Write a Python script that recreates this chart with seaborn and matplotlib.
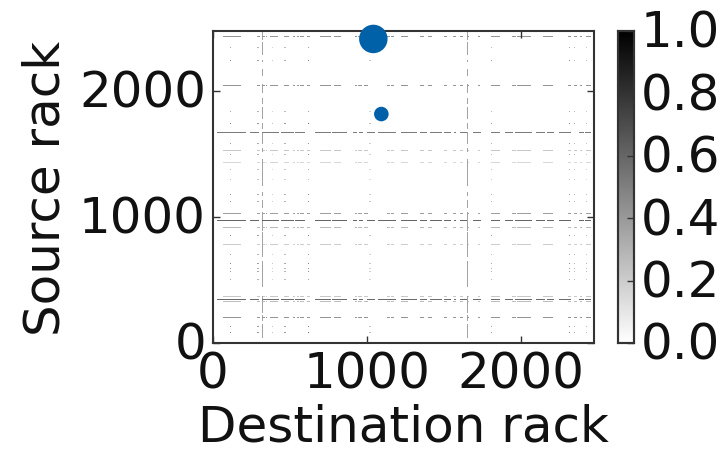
import numpy as np
import matplotlib
matplotlib.use('Agg')
import matplotlib.pyplot as plt
from matplotlib.transforms import ScaledTranslation
import seaborn as sns

# racks per heatmap cell, axis ends at about rack 2476
BIN = 8
LIMIT = 2476

x_ticks = [0, 1000, 2000]
y_ticks = [0, 1000, 2000]
cbar_ticks = [0.0, 0.2, 0.4, 0.6, 0.8, 1.0]

# blue circles (destination, source, area)
circle_x = [1042, 1094]
circle_y = [2413, 1817]
circle_size = [420, 110]

# rows with nearly continuous traffic
heavy_rows = [1667, 968, 349]
heavy_levels = [0.52, 0.6, 0.58]
heavy_spans = [
    (24, 214), (245, 295), (327, 360), (375, 425), (440, 490), (501, 523),
    (540, 599), (670, 761), (783, 870), (913, 935), (952, 974), (1000, 1048),
    (1076, 1120), (1130, 1148), (1156, 1184), (1228, 1260), (1271, 1326),
    (1348, 1387), (1409, 1483), (1504, 1539), (1569, 1575), (1613, 1641),
    (1691, 1739), (1815, 1858), (1897, 1945), (1966, 2064), (2103, 2155),
    (2168, 2212), (2249, 2325), (2379, 2400), (2422, 2455),
]

# rows with short dashes at the busy destination racks
medium_rows = [2436, 2040, 1024, 206]
medium_levels = [0.42, 0.42, 0.38, 0.42]
light_rows = [1524, 1436, 913, 778, 370, 330]
light_levels = [0.22, 0.16, 0.28, 0.2, 0.22, 0.26]
dash_spans = [
    (67, 180), (293, 300), (326, 332), (345, 350), (375, 420), (465, 490),
    (520, 530), (545, 555), (575, 590), (610, 625), (700, 760), (790, 830),
    (920, 930), (950, 960), (990, 1000), (1130, 1145), (1160, 1170),
    (1230, 1260), (1348, 1360), (1400, 1420), (1504, 1515), (1560, 1570),
    (1610, 1620), (1650, 1660), (1725, 1735), (1810, 1860), (1950, 1960),
    (1980, 2060), (2150, 2205), (2310, 2325), (2350, 2360), (2385, 2395),
    (2425, 2450),
]

# columns drawn as long broken lines
long_cols = [326, 1654]
long_levels = [0.36, 0.36]
long_spans = [
    (2412, 2465), (2293, 2386), (2236, 2244), (2121, 2174), (1989, 2055),
    (1896, 1936), (1777, 1870), (1698, 1737), (1579, 1671), (1513, 1539),
    (1248, 1460), (1169, 1195), (1076, 1129), (891, 1037), (680, 878),
    (455, 640), (243, 375), (177, 217), (45, 150),
]

# columns and rows that only meet as isolated dots
dot_cols = [118, 293, 384, 469, 619, 1016, 1810, 2318, 2350, 2428]
dot_levels = [0.5, 0.42, 0.24, 0.38, 0.55, 0.25, 0.38, 0.5, 0.33, 0.3]
dot_rows = [2349, 2246, 1833, 1738, 1580, 1490, 1380, 1300, 1183, 1127, 850,
            700, 627, 590, 563, 500, 135, 87]
dot_row_levels = [0.7, 0.9, 0.7, 1.0, 0.8, 0.7, 0.6, 0.5, 0.8, 0.8, 0.9,
                  0.7, 0.9, 0.7, 0.8, 0.7, 0.9, 1.0]

size = LIMIT // BIN + 1
matrix = np.zeros((size, size))


def fill(row_a, row_b, col_a, col_b, level):
    r0, r1 = row_a // BIN, row_b // BIN + 1
    c0, c1 = col_a // BIN, col_b // BIN + 1
    matrix[r0:r1, c0:c1] = np.maximum(matrix[r0:r1, c0:c1], level)


for row, level in zip(heavy_rows, heavy_levels):
    for a, b in heavy_spans:
        fill(row, row, a, b, level)

for row, level in zip(medium_rows + light_rows, medium_levels + light_levels):
    for a, b in dash_spans:
        fill(row, row, a, b, level)

for col, level in zip(long_cols, long_levels):
    for a, b in long_spans:
        fill(a, b, col, col, level)

for col, level in zip(dot_cols, dot_levels):
    for row, weight in zip(dot_rows, dot_row_levels):
        fill(row, row, col, col, level * weight)

plt.rcParams['font.family'] = ['DejaVu Sans']
fig = plt.figure(figsize=(7.23, 4.52), dpi=100)
ax = fig.add_axes([213 / 723, 1 - 344 / 452, 381 / 723, 312 / 452])
cax = fig.add_axes([618 / 723, 1 - 344 / 452, 16 / 723, 312 / 452])

sns.heatmap(matrix, ax=ax, cbar_ax=cax, cmap='gray_r', vmin=0, vmax=1,
            xticklabels=False, yticklabels=False, antialiased=True)
ax.set_xlim(0, LIMIT / BIN)
ax.set_ylim(0, LIMIT / BIN)

ax.scatter(np.array(circle_x) / BIN, np.array(circle_y) / BIN, s=circle_size,
           color='#0060a8', linewidths=0, zorder=5, clip_on=False)

ax.set_xticks(np.array(x_ticks) / BIN)
ax.set_xticklabels(x_ticks)
ax.set_yticks(np.array(y_ticks) / BIN)
ax.set_yticklabels(y_ticks, rotation=0)
ax.tick_params(direction='in', length=5, width=1, color='#333333', top=True,
               right=True, labelsize=36, pad=5, labelcolor='#111111')
ax.set_xlabel('Destination rack', fontsize=36, labelpad=3, color='#111111')
ax.set_ylabel('Source rack', fontsize=36, labelpad=7, color='#111111')
for spine in ax.spines.values():
    spine.set_visible(True)
    spine.set_linewidth(1.5)
    spine.set_color('#333333')

cax.set_yticks(cbar_ticks)
cax.set_yticklabels(['%.1f' % t for t in cbar_ticks])
cax.tick_params(direction='in', length=5, width=1, color='#333333', left=False,
                right=True, labelsize=36, pad=5, labelcolor='#111111')
for spine in cax.spines.values():
    spine.set_visible(True)
    spine.set_linewidth(1.5)
    spine.set_color('#333333')

# vertical tick labels sit a little higher in the reference
nudge = ScaledTranslation(0, 3 / 100, fig.dpi_scale_trans)
for label in ax.get_yticklabels() + cax.get_yticklabels():
    label.set_transform(label.get_transform() + nudge)

fig.savefig('out.png', dpi=100)
